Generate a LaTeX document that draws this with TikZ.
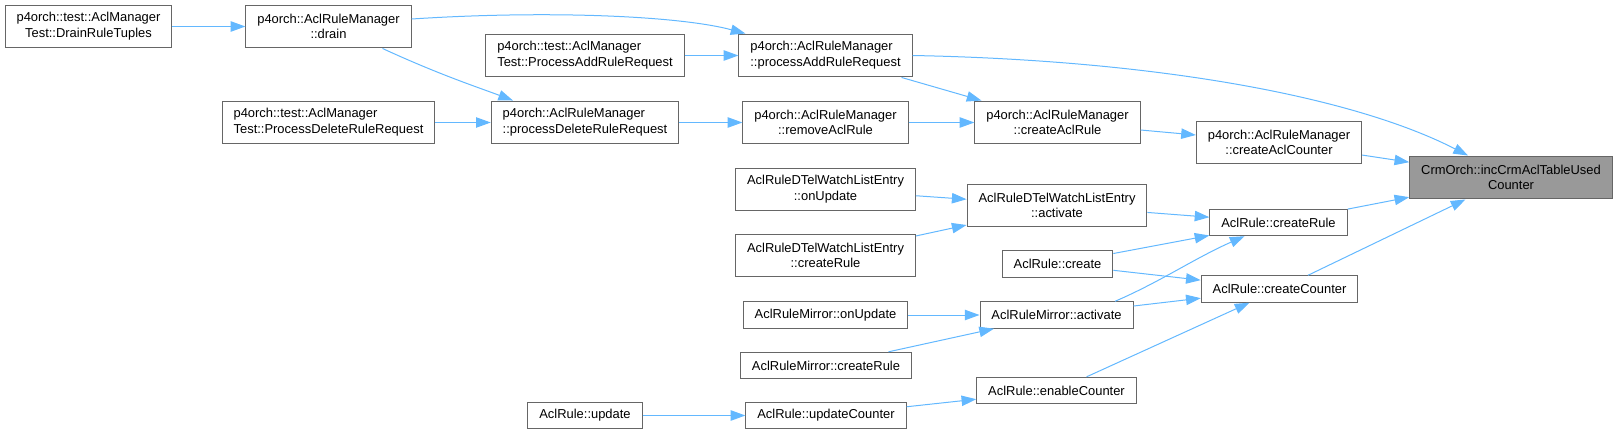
\documentclass[tikz,border=0pt]{standalone}
\usepackage{fontspec}
\setmainfont{Liberation Sans}
\usepackage{tikz}
\usetikzlibrary{arrows.meta,calc}

\definecolor{edgeblue}{HTML}{63B8FF}
\definecolor{boxgray}{HTML}{666666}
\definecolor{rootgray}{HTML}{999999}

\tikzset{
  fn/.style={draw=boxgray, fill=white, line width=0.75pt, inner xsep=8.6pt, inner ysep=0pt,
    minimum height=19.8pt, font=\fontsize{9.7}{11.8}\selectfont, text=black},
  fn2/.style={fn, minimum height=32.2pt, align=center},
  fnl/.style={fn2, align=left},
  call/.style={edgeblue, line width=0.75pt, -{Triangle[length=11pt,width=7.8pt]}},
}

\begin{document}
\begin{tikzpicture}[x=0.75pt,y=-0.75pt]
    \useasboundingbox (0,0) rectangle (1620,435);
    % p4orch callers
    \node[fn2] (tuples) at (88.5,26.5) {p4orch::test::AclManager\\Test::DrainRuleTuples};
    \node[fn2] (drain) at (328.5,26.5) {p4orch::AclRuleManager\\::drain};
    \node[fnl] (tadd) at (585,55.5) {p4orch::test::AclManager\\Test::ProcessAddRuleRequest};
    \node[fnl] (padd) at (825.5,55.5) {p4orch::AclRuleManager\\::processAddRuleRequest};
    \node[fnl] (tdel) at (328.5,122.5) {p4orch::test::AclManager\\Test::ProcessDeleteRuleRequest};
    \node[fnl] (pdel) at (585,122.5) {p4orch::AclRuleManager\\::processDeleteRuleRequest};
    \node[fn2] (rmrule) at (825.5,122.5) {p4orch::AclRuleManager\\::removeAclRule};
    \node[fn2] (mkrule) at (1057.5,122.5) {p4orch::AclRuleManager\\::createAclRule};
    \node[fn2] (mkcnt) at (1279,142.5) {p4orch::AclRuleManager\\::createAclCounter};
    % the called function
    \node[fn2,fill=rootgray] (crm) at (1511,177.5) {CrmOrch::incCrmAclTableUsed\\Counter};
    % AclRule callers
    \node[fn2] (dtupd) at (825.5,189.5) {AclRuleDTelWatchListEntry\\::onUpdate};
    \node[fn2] (dtact) at (1057,205.5) {AclRuleDTelWatchListEntry\\::activate};
    \node[fn] (crrule) at (1278.5,222.5) {AclRule::createRule};
    \node[fn2] (dtcr) at (825.5,255.5) {AclRuleDTelWatchListEntry\\::createRule};
    \node[fn] (create) at (1057.5,264) {AclRule::create};
    \node[fn] (crcnt) at (1279.5,289) {AclRule::createCounter};
    \node[fn] (mrupd) at (825.5,315) {AclRuleMirror::onUpdate};
    \node[fn] (mract) at (1056.5,315) {AclRuleMirror::activate};
    \node[fn] (mrcr) at (826,365.5) {AclRuleMirror::createRule};
    \node[fn] (enable) at (1056.5,390.5) {AclRule::enableCounter};
    \node[fn] (update) at (585,415.5) {AclRule::update};
    \node[fn] (updcnt) at (826,415.5) {AclRule::updateCounter};
    % calls
    \draw[call] (tuples) -- (drain);
    \draw[call] ($(drain.east)+(0,-7.5)$) .. controls (550,10) and (680,16) .. ($(padd.north west)+(7,0)$);
    \draw[call] ($(drain.south)+(54,0)$) .. controls (440,75) and (480,88) .. ($(pdel.north)+(-72,0)$);
    \draw[call] (tadd) -- (padd);
    \draw[call] (tdel) -- (pdel);
    \draw[call] (pdel) -- (rmrule);
    \draw[call] (padd) -- (mkrule);
    \draw[call] (rmrule) -- (mkrule);
    \draw[call] (mkrule) -- (mkcnt);
    \draw[call] (mkcnt) -- (crm);
    \draw[call] (padd.east) .. controls (1150,60) and (1350,95) .. ($(crm.north)+(-43,0)$);
    \draw[call] (dtupd) -- (dtact);
    \draw[call] (dtcr) -- (dtact);
    \draw[call] (dtact) -- (crrule);
    \draw[call] (create) -- (crrule);
    \draw[call] (create) -- (crcnt);
    \draw[call] ($(mract.north)+(58.5,0)$) .. controls (1160,282) and (1195,258) .. ($(crrule.south)+(-34,0)$);
    \draw[call] (mract) -- (crcnt);
    \draw[call] (mrupd) -- (mract);
    \draw[call] (mrcr) -- (mract);
    \draw[call] (crrule) -- (crm);
    \draw[call] (crcnt) -- (crm);
    \draw[call] (enable) -- (crcnt);
    \draw[call] (updcnt) -- (enable);
    \draw[call] (update) -- (updcnt);
\end{tikzpicture}
\end{document}
